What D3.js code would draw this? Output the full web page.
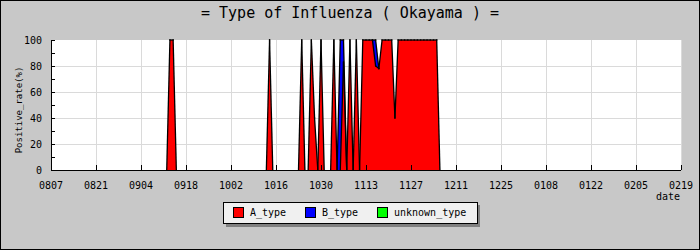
<!DOCTYPE html>
<html><head><meta charset="utf-8">
<script src="https://cdn.jsdelivr.net/npm/d3@7"></script>
<style>
html,body{margin:0;padding:0;background:#c8c8c8;}
svg{display:block;}
text{font-family:"DejaVu Sans Mono",monospace;fill:#000;}
</style></head>
<body>
<script>
// ---- data ----
const title = "= Type of Influenza ( Okayama ) =";
const tickLabels = ["0807","0821","0904","0918","1002","1016","1030","1113","1127","1211","1225","0108","0122","0205","0219"];
const yTicks = [0,20,40,60,80,100];
const seriesNames = ["A_type","B_type","unknown_type"];
const seriesColors = ["#ff0000","#0000ff","#00ff00"];
const firstDay = 35; // days after 0807 of the first value below (0911)
const A_type = [
  0,0,100,100,0, 0,0,0,0,0, 0,0,0,0,0, 0,0,0,0,0, 0,0,0,0,0, 0,0,0,0,0, 0,0,
  0,100,0, 0,0,0,0,0,0,0, 0,100,0, 0,100,40,0, 100,0,0,0, 100,0,
  0,83,0, 100,0,100,0, 100,100,100,100,80,78, 100,100,100,100,40,
  100,100,100,100,100,100,100,100,100,100,100,100,100, 0,0
];
const B_type = [
  0,0,0,0,0, 0,0,0,0,0, 0,0,0,0,0, 0,0,0,0,0, 0,0,0,0,0, 0,0,0,0,0, 0,0,
  0,0,0, 0,0,0,0,0,0,0, 0,0,0, 0,0,0,0, 0,0,0,0, 0,0,
  100,17,0, 0,0,0,0, 0,0,0,0,20,0, 0,0,0,0,0,
  0,0,0,0,0,0,0,0,0,0,0,0,0, 0,0
];
const unknown_type = A_type.map(() => 0);

// ---- layout ----
const W = 700, H = 250;
const m = {left:51, right:681, top:40, bottom:170};
const svg = d3.select("body").append("svg").attr("width",W).attr("height",H);
svg.append("rect").attr("x",0.5).attr("y",0.5).attr("width",W-1).attr("height",H-1)
  .attr("fill","#c8c8c8").attr("stroke","#000");

const totalDays = (tickLabels.length-1)*14;
const x = d3.scaleLinear().domain([0,totalDays]).range([m.left,m.right]);
const y = d3.scaleLinear().domain([0,100]).range([m.bottom,m.top]);

svg.append("rect").attr("x",m.left).attr("y",m.top).attr("width",m.right-m.left).attr("height",m.bottom-m.top).attr("fill","#fff");

// grid
const g = svg.append("g").attr("shape-rendering","crispEdges");
yTicks.filter(v=>v>0 && v<100).forEach(v=>{
  g.append("line").attr("x1",m.left).attr("x2",m.right).attr("y1",y(v)).attr("y2",y(v)).attr("stroke","#dadada");
});
tickLabels.forEach((t,i)=>{ if(i>0) g.append("line").attr("x1",x(i*14)).attr("x2",x(i*14)).attr("y1",m.top).attr("y2",m.bottom).attr("stroke","#dadada"); });

// data rows
const rows = A_type.map((a,i)=>({d:firstDay+i, A_type:a, B_type:B_type[i], unknown_type:unknown_type[i]}));
const stack = d3.stack().keys(seriesNames)(rows);
const area = d3.area().x(d=>x(d.data.d)).y0(d=>y(d[0])).y1(d=>y(d[1]));
const line = d3.line().x(d=>x(d.data.d)).y(d=>y(d[1]));
const pg = svg.append("g");
stack.forEach((s,i)=>{
  pg.append("path").datum(s).attr("d",area).attr("fill",seriesColors[i]).attr("shape-rendering","crispEdges");
});
// outline each layer only where that layer has a value
stack.forEach((s,i)=>{
  const key = seriesNames[i];
  for(let k=0;k<s.length-1;k++){
    if(s[k].data[key]>0 || s[k+1].data[key]>0){
      pg.append("path").datum([s[k],s[k+1]]).attr("d",line).attr("fill","none")
        .attr("stroke","#000").attr("stroke-width",1.3).attr("stroke-linecap","square");
    }
  }
});

// axes
const ag = svg.append("g").attr("shape-rendering","crispEdges");
ag.append("line").attr("x1",m.left).attr("x2",m.left).attr("y1",m.top).attr("y2",m.bottom).attr("stroke","#000");
ag.append("line").attr("x1",m.left).attr("x2",m.right).attr("y1",m.bottom).attr("y2",m.bottom).attr("stroke","#000");
d3.range(0,101,10).forEach(v=>{
  ag.append("line").attr("x1",m.left).attr("x2",m.left+4).attr("y1",y(v)).attr("y2",y(v)).attr("stroke","#000");
});
tickLabels.forEach((t,i)=>{
  ag.append("line").attr("x1",x(i*14)).attr("x2",x(i*14)).attr("y1",m.bottom).attr("y2",m.bottom-5).attr("stroke","#000");
  svg.append("text").attr("x",x(i*14)).attr("y",m.bottom+19).attr("text-anchor","middle").attr("font-size",10).text(t);
});
yTicks.forEach(v=>{
  svg.append("text").attr("x",42).attr("y",y(v)+4).attr("text-anchor","end").attr("font-size",10).text(v);
});
svg.append("text").attr("x",680).attr("y",200).attr("text-anchor","end").attr("font-size",10).text("date");
svg.append("text").attr("transform","translate(22,110) rotate(-90)").attr("text-anchor","middle").attr("font-size",9).text("Positive_rate(%)");
svg.append("text").attr("x",350).attr("y",18).attr("text-anchor","middle").attr("font-size",15).text(title);

// legend
const lg = svg.append("g").attr("shape-rendering","crispEdges");
lg.append("rect").attr("x",226).attr("y",205).attr("width",254).attr("height",22).attr("fill","#808080");
lg.append("rect").attr("x",223.5).attr("y",202.5).attr("width",254).attr("height",21).attr("fill","#f0f0f0").attr("stroke","#000");
const lx = [233,305,377];
seriesNames.forEach((n,i)=>{
  lg.append("rect").attr("x",lx[i]+0.5).attr("y",207.5).attr("width",10).attr("height",10).attr("fill",seriesColors[i]).attr("stroke","#000");
  svg.append("text").attr("x",lx[i]+17).attr("y",216).attr("font-size",10).text(n);
});
</script>
</body></html>
